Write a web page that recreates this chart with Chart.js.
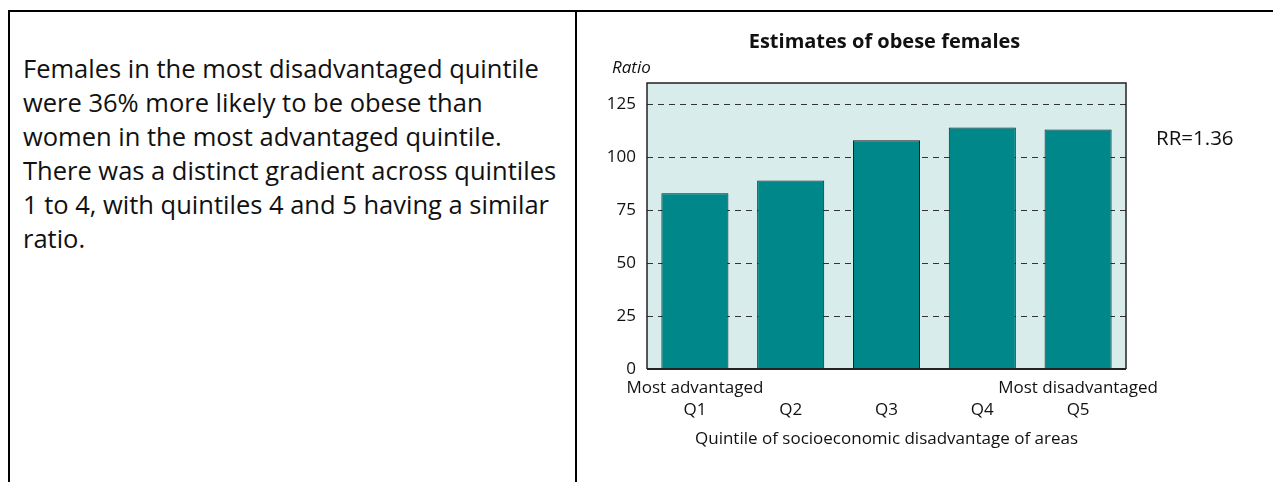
<!DOCTYPE html>
<html>
<head>
<meta charset="utf-8">
<script src="https://cdn.jsdelivr.net/npm/chart.js@4/dist/chart.umd.min.js"></script>
<style>
  body { margin: 0; background: #fff; width: 1273px; height: 482px; overflow: hidden; position: relative; }
  .line { position: absolute; background: #000; }
  #text { position: absolute; left: 23px; top: 51px; font-family: "Open Sans", sans-serif; font-size: 25.5px; line-height: 34px; color: #111; white-space: nowrap; }
  #wrap { position: absolute; left: 580px; top: 12px; width: 693px; height: 470px; }
</style>
</head>
<body>
<div class="line" style="left:8px; top:10px; width:1265px; height:2px;"></div>
<div class="line" style="left:8px; top:10px; width:2px; height:472px;"></div>
<div class="line" style="left:575px; top:10px; width:2px; height:472px;"></div>
<div id="text">Females in the most disadvantaged quintile<br>were 36% more likely to be obese than<br>women in the most advantaged quintile.<br>There was a distinct gradient across quintiles<br>1 to 4, with quintiles 4 and 5 having a similar<br>ratio.</div>
<div id="wrap"><canvas id="chart"></canvas></div>
<script>
const categories = ['Q1', 'Q2', 'Q3', 'Q4', 'Q5'];
const endLabels = ['Most advantaged', '', '', '', 'Most disadvantaged'];
const ratioValues = [83, 89, 108, 114, 113];
const yTicks = [0, 25, 50, 75, 100, 125];
const chartTitle = 'Estimates of obese females';
const yTitle = 'Ratio';
const xTitle = 'Quintile of socioeconomic disadvantage of areas';
const rrLabel = 'RR=1.36';

const font = '"Open Sans", sans-serif';

// plot background, frame and the loose labels round the plot
const plotExtras = {
  id: 'plotExtras',
  beforeDraw(chart) {
    const { ctx, chartArea: a } = chart;
    ctx.save();
    ctx.fillStyle = '#d9ecec';
    ctx.fillRect(a.left, a.top, a.right - a.left, a.bottom - a.top);
    ctx.restore();
  },
  afterDatasetsDraw(chart) {
    const { ctx, chartArea: a } = chart;
    ctx.save();
    ctx.strokeStyle = '#222';
    ctx.lineWidth = 1.5;
    ctx.beginPath();
    ctx.moveTo(a.left, a.bottom);
    ctx.lineTo(a.left, a.top);
    ctx.lineTo(a.right, a.top);
    ctx.lineTo(a.right, a.bottom);
    ctx.stroke();
    ctx.lineWidth = 2;
    ctx.beginPath();
    ctx.moveTo(a.left, a.bottom);
    ctx.lineTo(a.right, a.bottom);
    ctx.stroke();

    ctx.fillStyle = '#111';
    ctx.textBaseline = 'alphabetic';
    ctx.textAlign = 'center';
    ctx.font = 'bold 20px ' + font;
    ctx.fillText(chartTitle, (a.left + a.right) / 2 - 2, 36);
    ctx.textAlign = 'left';
    ctx.font = 'italic 17px ' + font;
    ctx.fillText(yTitle, 32, 61);
    ctx.font = '20.5px ' + font;
    ctx.fillText(rrLabel, a.right + 30, 133);
    ctx.restore();
  }
};

new Chart(document.getElementById('chart'), {
  type: 'bar',
  data: {
    labels: categories,
    datasets: [{
      data: ratioValues,
      backgroundColor: '#00878a',
      borderColor: '#1a1a1a',
      borderWidth: 1,
      barPercentage: 0.7,
      categoryPercentage: 1
    }]
  },
  options: {
    responsive: true,
    maintainAspectRatio: false,
    animation: false,
    layout: { padding: { left: 0, top: 71, right: 147, bottom: 0 } },
    plugins: { legend: { display: false }, tooltip: { enabled: false } },
    scales: {
      x: {
        grid: { display: false, drawTicks: false },
        border: { display: false },
        ticks: {
          color: '#111',
          font: { family: font, size: 17, lineHeight: 22 / 17 },
          padding: 8,
          maxRotation: 0,
          autoSkip: false,
          callback: (v, i) => [endLabels[i], categories[i]]
        },
        title: {
          display: true,
          text: xTitle,
          color: '#111',
          font: { family: font, size: 17 },
          padding: { top: 0, bottom: 33 }
        },
        afterFit: s => { s.height = 113; }
      },
      y: {
        min: 0,
        max: 135,
        grid: {
          drawTicks: false,
          color: c => (c.tick && c.tick.value > 0 ? '#333' : 'rgba(0,0,0,0)'),
          lineWidth: 1
        },
        border: { display: false, dash: [6, 5] },
        ticks: {
          stepSize: 25,
          includeBounds: false,
          color: '#111',
          padding: 11,
          font: { family: font, size: 17 },
          callback: v => (yTicks.includes(v) ? v : '')
        },
        afterFit: s => { s.width = 67; }
      }
    }
  },
  plugins: [plotExtras]
});
</script>
</body>
</html>
